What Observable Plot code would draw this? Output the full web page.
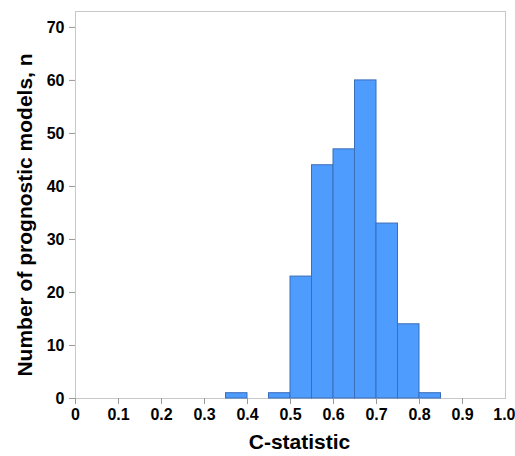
<!DOCTYPE html>
<html>
<head>
<meta charset="utf-8">
<script src="https://cdn.jsdelivr.net/npm/d3@7"></script>
<script src="https://cdn.jsdelivr.net/npm/@observablehq/plot@0.6"></script>
<style>
  html, body { margin: 0; padding: 0; background: #fff; }
  svg { font-family: "Liberation Sans", Arial, sans-serif; }
</style>
</head>
<body>
<div id="chart"></div>
<script>
const binStart = [0.35, 0.45, 0.50, 0.55, 0.60, 0.65, 0.70, 0.75, 0.80];
const binWidth = 0.05;
const counts   = [1, 1, 23, 44, 47, 60, 33, 14, 1];
const xTicks = [0, 0.1, 0.2, 0.3, 0.4, 0.5, 0.6, 0.7, 0.8, 0.9, 1.0];
const xTickLabels = ["0", "0.1", "0.2", "0.3", "0.4", "0.5", "0.6", "0.7", "0.8", "0.9", "1.0"];
const yTicks = [0, 10, 20, 30, 40, 50, 60, 70];
const xTitle = "C-statistic";
const yTitle = "Number of prognostic models, n";

const bins = binStart.map((s, i) => ({x1: s, x2: s + binWidth, n: counts[i]}));
const labelOf = d => xTickLabels[xTicks.indexOf(d)];
const lastTick = xTicks[xTicks.length - 1];

const chart = Plot.plot({
  width: 515,
  height: 456,
  marginLeft: 75,
  marginRight: 10,
  marginTop: 11,
  marginBottom: 58,
  style: {fontFamily: "'Liberation Sans', Arial, sans-serif", fontSize: "16px", fontWeight: "bold", color: "#000", background: "#fff"},
  x: {domain: [0, 1]},
  y: {domain: [0, 73]},
  marks: [
    Plot.frame({stroke: "#c8c8c8"}),
    Plot.rect(bins, {x1: "x1", x2: "x2", y1: 0, y2: "n", fill: "#4f9cff", stroke: "#3b6eb8", strokeWidth: 1}),
    Plot.axisX({ticks: xTicks.slice(0, -1), tickFormat: labelOf, tickSize: 6, tickPadding: 4, stroke: "#999", fill: "#000", label: null, fontSize: 16, fontWeight: "bold"}),
    Plot.axisX({ticks: [lastTick], tickFormat: labelOf, tickSize: 6, tickPadding: 4, stroke: "#999", fill: "#000", label: null, fontSize: 16, fontWeight: "bold", textAnchor: "end", dx: 10}),
    Plot.axisY({ticks: yTicks, tickSize: 6, tickPadding: 5, stroke: "#999", fill: "#000", label: null, fontSize: 16, fontWeight: "bold"}),
    Plot.text([xTitle], {text: d => d, frameAnchor: "bottom", dy: 44, dx: 9, fontSize: 21, fontWeight: "bold", fill: "#000", textAnchor: "middle", lineAnchor: "middle"}),
    Plot.text([yTitle], {text: d => d, frameAnchor: "left", dx: -50, dy: 10, rotate: -90, fontSize: 21, fontWeight: "bold", fill: "#000", textAnchor: "middle", lineAnchor: "middle"})
  ]
});
document.getElementById("chart").appendChild(chart);
</script>
</body>
</html>
